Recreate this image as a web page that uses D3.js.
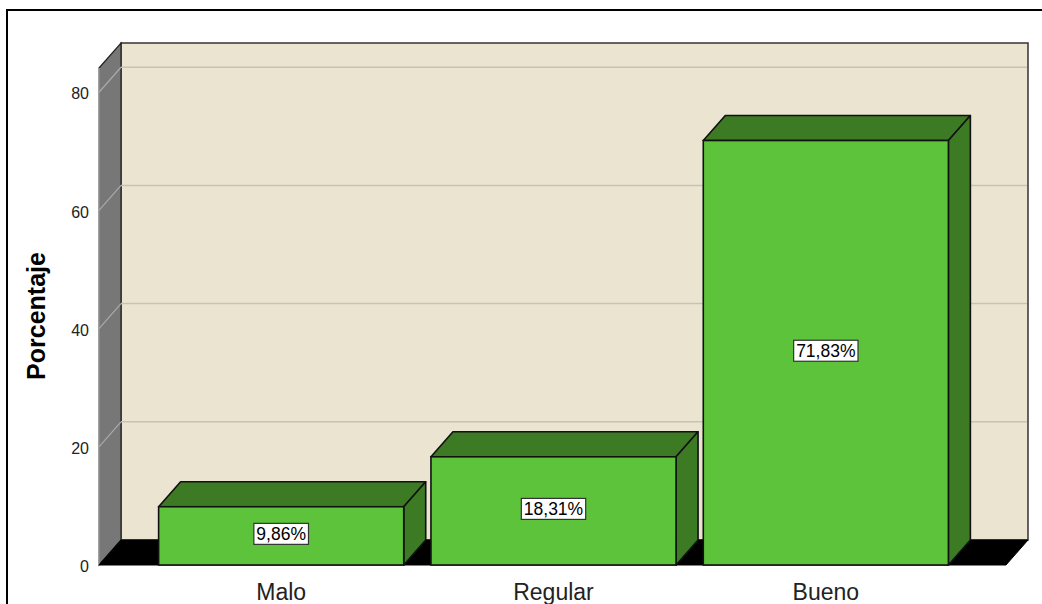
<!DOCTYPE html>
<html>
<head>
<meta charset="utf-8">
<script src="https://cdn.jsdelivr.net/npm/d3@7"></script>
<style>
  html, body { margin: 0; padding: 0; background: #ffffff; }
  svg { display: block; }
</style>
</head>
<body>
<svg id="chart" width="1042" height="604"></svg>
<script>
// ---- data ----
const categories = ["Malo", "Regular", "Bueno"];
const values = [9.86, 18.31, 71.83];
const valueLabels = ["9,86%", "18,31%", "71,83%"];
const yTicks = [0, 20, 40, 60, 80];
const yTitle = "Porcentaje";

// ---- layout ----
const svg = d3.select("#chart");
const W = 1042, H = 604;
const depthX = 22, depthY = 25;     // 3D depth offset (back = front + (dx, -dy))
const frontLeft = 99, backRight = 1028;
const frontBottom = 565;

const y = d3.scaleLinear().domain([0, 84.1]).range([frontBottom, 68]);
const x = d3.scaleBand().domain(categories).range([145, 962])
  .paddingInner(0.1).paddingOuter(0.05);

// outer frame
svg.append("rect").attr("x", 7).attr("y", 10).attr("width", W + 20).attr("height", H + 20)
  .attr("fill", "#ffffff").attr("stroke", "#000").attr("stroke-width", 2);

const backTop = y.range()[1] - depthY;
const backBottom = frontBottom - depthY;
const backLeft = frontLeft + depthX;

// back wall
svg.append("rect").attr("x", backLeft).attr("y", backTop)
  .attr("width", backRight - backLeft).attr("height", backBottom - backTop)
  .attr("fill", "#ebe4d0").attr("stroke", "#333").attr("stroke-width", 1.5);

// left side wall
svg.append("polygon")
  .attr("points", [[frontLeft, y.range()[1]], [backLeft, backTop], [backLeft, backBottom], [frontLeft, frontBottom]].map(p => p.join(",")).join(" "))
  .attr("fill", "#777777").attr("stroke", "#222").attr("stroke-width", 1.2);
svg.append("line").attr("x1", frontLeft).attr("x2", frontLeft)
  .attr("y1", y.range()[1]).attr("y2", frontBottom)
  .attr("stroke", "#bbbbbb").attr("stroke-width", 1.2);

// gridlines
yTicks.filter(t => t > 0).forEach(t => {
  const yb = y(t) - depthY;
  svg.append("line").attr("x1", backLeft).attr("x2", backRight - 1)
    .attr("y1", yb).attr("y2", yb).attr("stroke", "#c6c2b6").attr("stroke-width", 1.5);
  svg.append("line").attr("x1", backLeft).attr("y1", yb)
    .attr("x2", frontLeft).attr("y2", y(t))
    .attr("stroke", "#aaaaaa").attr("stroke-width", 1.2);
});

// floor
svg.append("polygon")
  .attr("points", [[frontLeft, frontBottom], [backLeft, backBottom], [backRight, backBottom], [backRight - depthX, frontBottom]].map(p => p.join(",")).join(" "))
  .attr("fill", "#000").attr("stroke", "#000").attr("stroke-width", 1);

// y tick labels
svg.append("g").selectAll("text").data(yTicks).join("text")
  .attr("x", 89).attr("y", d => y(d) + 3)
  .attr("text-anchor", "end").attr("dominant-baseline", "middle")
  .attr("font-family", "Liberation Sans, Arial, sans-serif").attr("font-size", 16)
  .attr("fill", "#222").text(d => d);

// y title
svg.append("text")
  .attr("transform", `translate(45,316) rotate(-90)`)
  .attr("text-anchor", "middle")
  .attr("font-family", "Liberation Sans, Arial, sans-serif").attr("font-size", 25)
  .attr("font-weight", "bold").attr("fill", "#000").text(yTitle);

// bars
const bars = svg.append("g");
categories.forEach((c, i) => {
  const x0 = x(c), x1 = x(c) + x.bandwidth();
  const yt = y(values[i]), yb = frontBottom;
  const g = bars.append("g");
  const pts = a => a.map(p => p.join(",")).join(" ");
  // top face
  g.append("polygon").attr("points", pts([[x0, yt], [x0 + depthX, yt - depthY], [x1 + depthX, yt - depthY], [x1, yt]]))
    .attr("fill", "#3c7a24").attr("stroke", "#111").attr("stroke-width", 1.6).attr("stroke-linejoin", "round");
  // side face
  g.append("polygon").attr("points", pts([[x1, yt], [x1 + depthX, yt - depthY], [x1 + depthX, yb - depthY], [x1, yb]]))
    .attr("fill", "#3c7a24").attr("stroke", "#111").attr("stroke-width", 1.6).attr("stroke-linejoin", "round");
  // front face
  g.append("rect").attr("x", x0).attr("y", yt).attr("width", x1 - x0).attr("height", yb - yt)
    .attr("fill", "#5dc33a").attr("stroke", "#111").attr("stroke-width", 1.6);

  // value label
  const cx = (x0 + x1) / 2, cy = (yt + yb) / 2 - 2;
  const t = g.append("text").attr("x", cx).attr("y", cy)
    .attr("text-anchor", "middle").attr("dominant-baseline", "central")
    .attr("font-family", "Liberation Sans, Arial, sans-serif").attr("font-size", 17.5)
    .attr("fill", "#000").text(valueLabels[i]);
  const bb = t.node().getBBox();
  g.insert("rect", "text").attr("x", bb.x - 2.5).attr("y", cy - 10.5)
    .attr("width", bb.width + 5).attr("height", 21)
    .attr("fill", "#fff").attr("stroke", "#333").attr("stroke-width", 1.2);

  // category label
  svg.append("text").attr("x", cx).attr("y", 600)
    .attr("text-anchor", "middle")
    .attr("font-family", "Liberation Sans, Arial, sans-serif").attr("font-size", 23)
    .attr("fill", "#222").text(c);
});
</script>
</body>
</html>
